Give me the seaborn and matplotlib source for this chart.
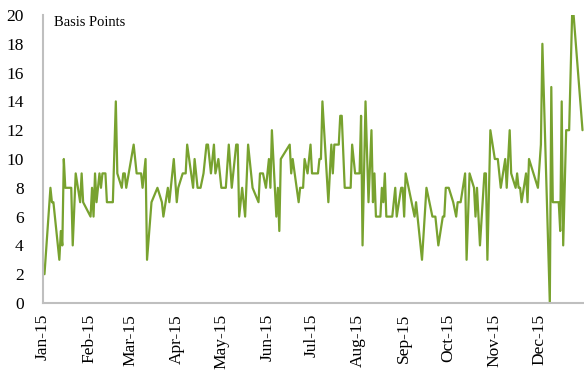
import matplotlib
matplotlib.use("Agg")
import matplotlib.pyplot as plt
import matplotlib.dates as mdates
import pandas as pd
import seaborn as sns

# Daily spread observations for 2015, in basis points
obs_dates = [
    "2015-01-02", "2015-01-06", "2015-01-07", "2015-01-08", "2015-01-12", "2015-01-13",
    "2015-01-14", "2015-01-15", "2015-01-16", "2015-01-20", "2015-01-21", "2015-01-23",
    "2015-01-26", "2015-01-27", "2015-01-28", "2015-02-02", "2015-02-03", "2015-02-04",
    "2015-02-05", "2015-02-06", "2015-02-08", "2015-02-09", "2015-02-10", "2015-02-12",
    "2015-02-13", "2015-02-17", "2015-02-19", "2015-02-20", "2015-02-23", "2015-02-24",
    "2015-02-25", "2015-02-26", "2015-03-03", "2015-03-05", "2015-03-08", "2015-03-09",
    "2015-03-11", "2015-03-12", "2015-03-15", "2015-03-19", "2015-03-22", "2015-03-23",
    "2015-03-26", "2015-03-27", "2015-03-30", "2015-04-01", "2015-04-02", "2015-04-05",
    "2015-04-07", "2015-04-08", "2015-04-12", "2015-04-13", "2015-04-15", "2015-04-17",
    "2015-04-19", "2015-04-21", "2015-04-22", "2015-04-24", "2015-04-26", "2015-04-27",
    "2015-04-29", "2015-05-01", "2015-05-04", "2015-05-06", "2015-05-08", "2015-05-11",
    "2015-05-12", "2015-05-13", "2015-05-15", "2015-05-17", "2015-05-19", "2015-05-22",
    "2015-05-26", "2015-05-27", "2015-05-29", "2015-05-31", "2015-06-02", "2015-06-03",
    "2015-06-04", "2015-06-07", "2015-06-08", "2015-06-09", "2015-06-10", "2015-06-16",
    "2015-06-17", "2015-06-18", "2015-06-22", "2015-06-23", "2015-06-25", "2015-06-26",
    "2015-06-28", "2015-06-30", "2015-07-01", "2015-07-05", "2015-07-06", "2015-07-07",
    "2015-07-08", "2015-07-12", "2015-07-14", "2015-07-15", "2015-07-16", "2015-07-19",
    "2015-07-20", "2015-07-21", "2015-07-23", "2015-07-27", "2015-07-28", "2015-07-30",
    "2015-08-02", "2015-08-03", "2015-08-04", "2015-08-06", "2015-08-08", "2015-08-10",
    "2015-08-11", "2015-08-12", "2015-08-13", "2015-08-16", "2015-08-17", "2015-08-18",
    "2015-08-19", "2015-08-20", "2015-08-24", "2015-08-26", "2015-08-27", "2015-08-30",
    "2015-08-31", "2015-09-01", "2015-09-02", "2015-09-06", "2015-09-08", "2015-09-09",
    "2015-09-13", "2015-09-16", "2015-09-18", "2015-09-20", "2015-09-22", "2015-09-24",
    "2015-09-27", "2015-09-28", "2015-09-29", "2015-10-01", "2015-10-04", "2015-10-06",
    "2015-10-07", "2015-10-09", "2015-10-12", "2015-10-13", "2015-10-15", "2015-10-18",
    "2015-10-19", "2015-10-20", "2015-10-22", "2015-10-25", "2015-10-26", "2015-10-27",
    "2015-10-29", "2015-11-01", "2015-11-03", "2015-11-05", "2015-11-08", "2015-11-09",
    "2015-11-11", "2015-11-12", "2015-11-15", "2015-11-16", "2015-11-17", "2015-11-18",
    "2015-11-19", "2015-11-22", "2015-11-23", "2015-11-24", "2015-11-30", "2015-12-02",
    "2015-12-03", "2015-12-08", "2015-12-09", "2015-12-10", "2015-12-14", "2015-12-15",
    "2015-12-16", "2015-12-17", "2015-12-19", "2015-12-21", "2015-12-23", "2015-12-24",
    "2015-12-30",
]

basis_points = [
    2, 8, 7, 7, 3, 5,
    4, 10, 8, 8, 4, 9,
    7, 9, 7, 6, 8, 6,
    9, 7, 9, 8, 9, 9,
    7, 7, 14, 9, 8, 9,
    9, 8, 11, 9, 9, 8,
    10, 3, 7, 8, 7, 6,
    8, 7, 10, 7, 8, 9,
    9, 11, 8, 10, 8, 8,
    9, 11, 11, 9, 11, 9,
    10, 8, 8, 11, 8, 11,
    11, 6, 8, 6, 11, 8,
    7, 9, 9, 8, 10, 8,
    12, 6, 8, 5, 10, 11,
    9, 10, 7, 8, 8, 10,
    9, 11, 9, 9, 10, 10,
    14, 7, 11, 9, 11, 11,
    13, 13, 8, 8, 11, 9,
    9, 13, 4, 14, 7, 12,
    7, 9, 6, 6, 8, 7,
    9, 6, 6, 8, 6, 8,
    8, 6, 9, 7, 6, 7,
    3, 8, 7, 6, 6, 4,
    6, 6, 8, 8, 7, 6,
    7, 7, 9, 3, 9, 8,
    6, 8, 4, 9, 9, 3,
    12, 10, 10, 8, 10, 8,
    12, 9, 8, 9, 8, 8,
    7, 9, 7, 10, 8, 11,
    18, 0, 15, 7, 7, 5,
    14, 4, 12, 12, 20, 20,
    12,
]

y_ticks = list(range(0, 21, 2))
axis_label = "Basis Points"

df = pd.DataFrame({"date": pd.to_datetime(obs_dates), "bp": basis_points})

sns.set_style("white")
plt.rcParams["font.family"] = ["Liberation Serif", "DejaVu Serif"]

fig = plt.figure(figsize=(5.84, 3.76), dpi=100)
ax = fig.add_axes([43 / 584, 1 - 303 / 376, 1 - 43 / 584, 288 / 376])

sns.lineplot(data=df, x="date", y="bp", color="#78A22F", linewidth=1.6, ax=ax)

ax.set_xlim(pd.Timestamp("2015-01-01"), pd.Timestamp("2015-12-31"))
ax.set_ylim(0, 20)
ax.set_yticks(y_ticks)
ax.xaxis.set_major_locator(mdates.MonthLocator())
ax.xaxis.set_major_formatter(mdates.DateFormatter("%b-%y"))
ax.set_xlabel("")
ax.set_ylabel("")

for lbl in ax.get_xticklabels():
    lbl.set_rotation(90)
    lbl.set_ha("center")
ax.tick_params(axis="x", length=0, pad=8, labelsize=12.5, colors="#000000")
ax.tick_params(axis="y", length=0, pad=14, labelsize=12.5, colors="#000000")

for side in ("top", "right"):
    ax.spines[side].set_visible(False)
for side in ("left", "bottom"):
    ax.spines[side].set_color("#BFBFBF")
    ax.spines[side].set_linewidth(1.5)

ax.text(0.02, 0.975, axis_label, transform=ax.transAxes, ha="left", va="center",
        fontsize=10.5, color="#000000")

fig.savefig("out.png", dpi=100)
